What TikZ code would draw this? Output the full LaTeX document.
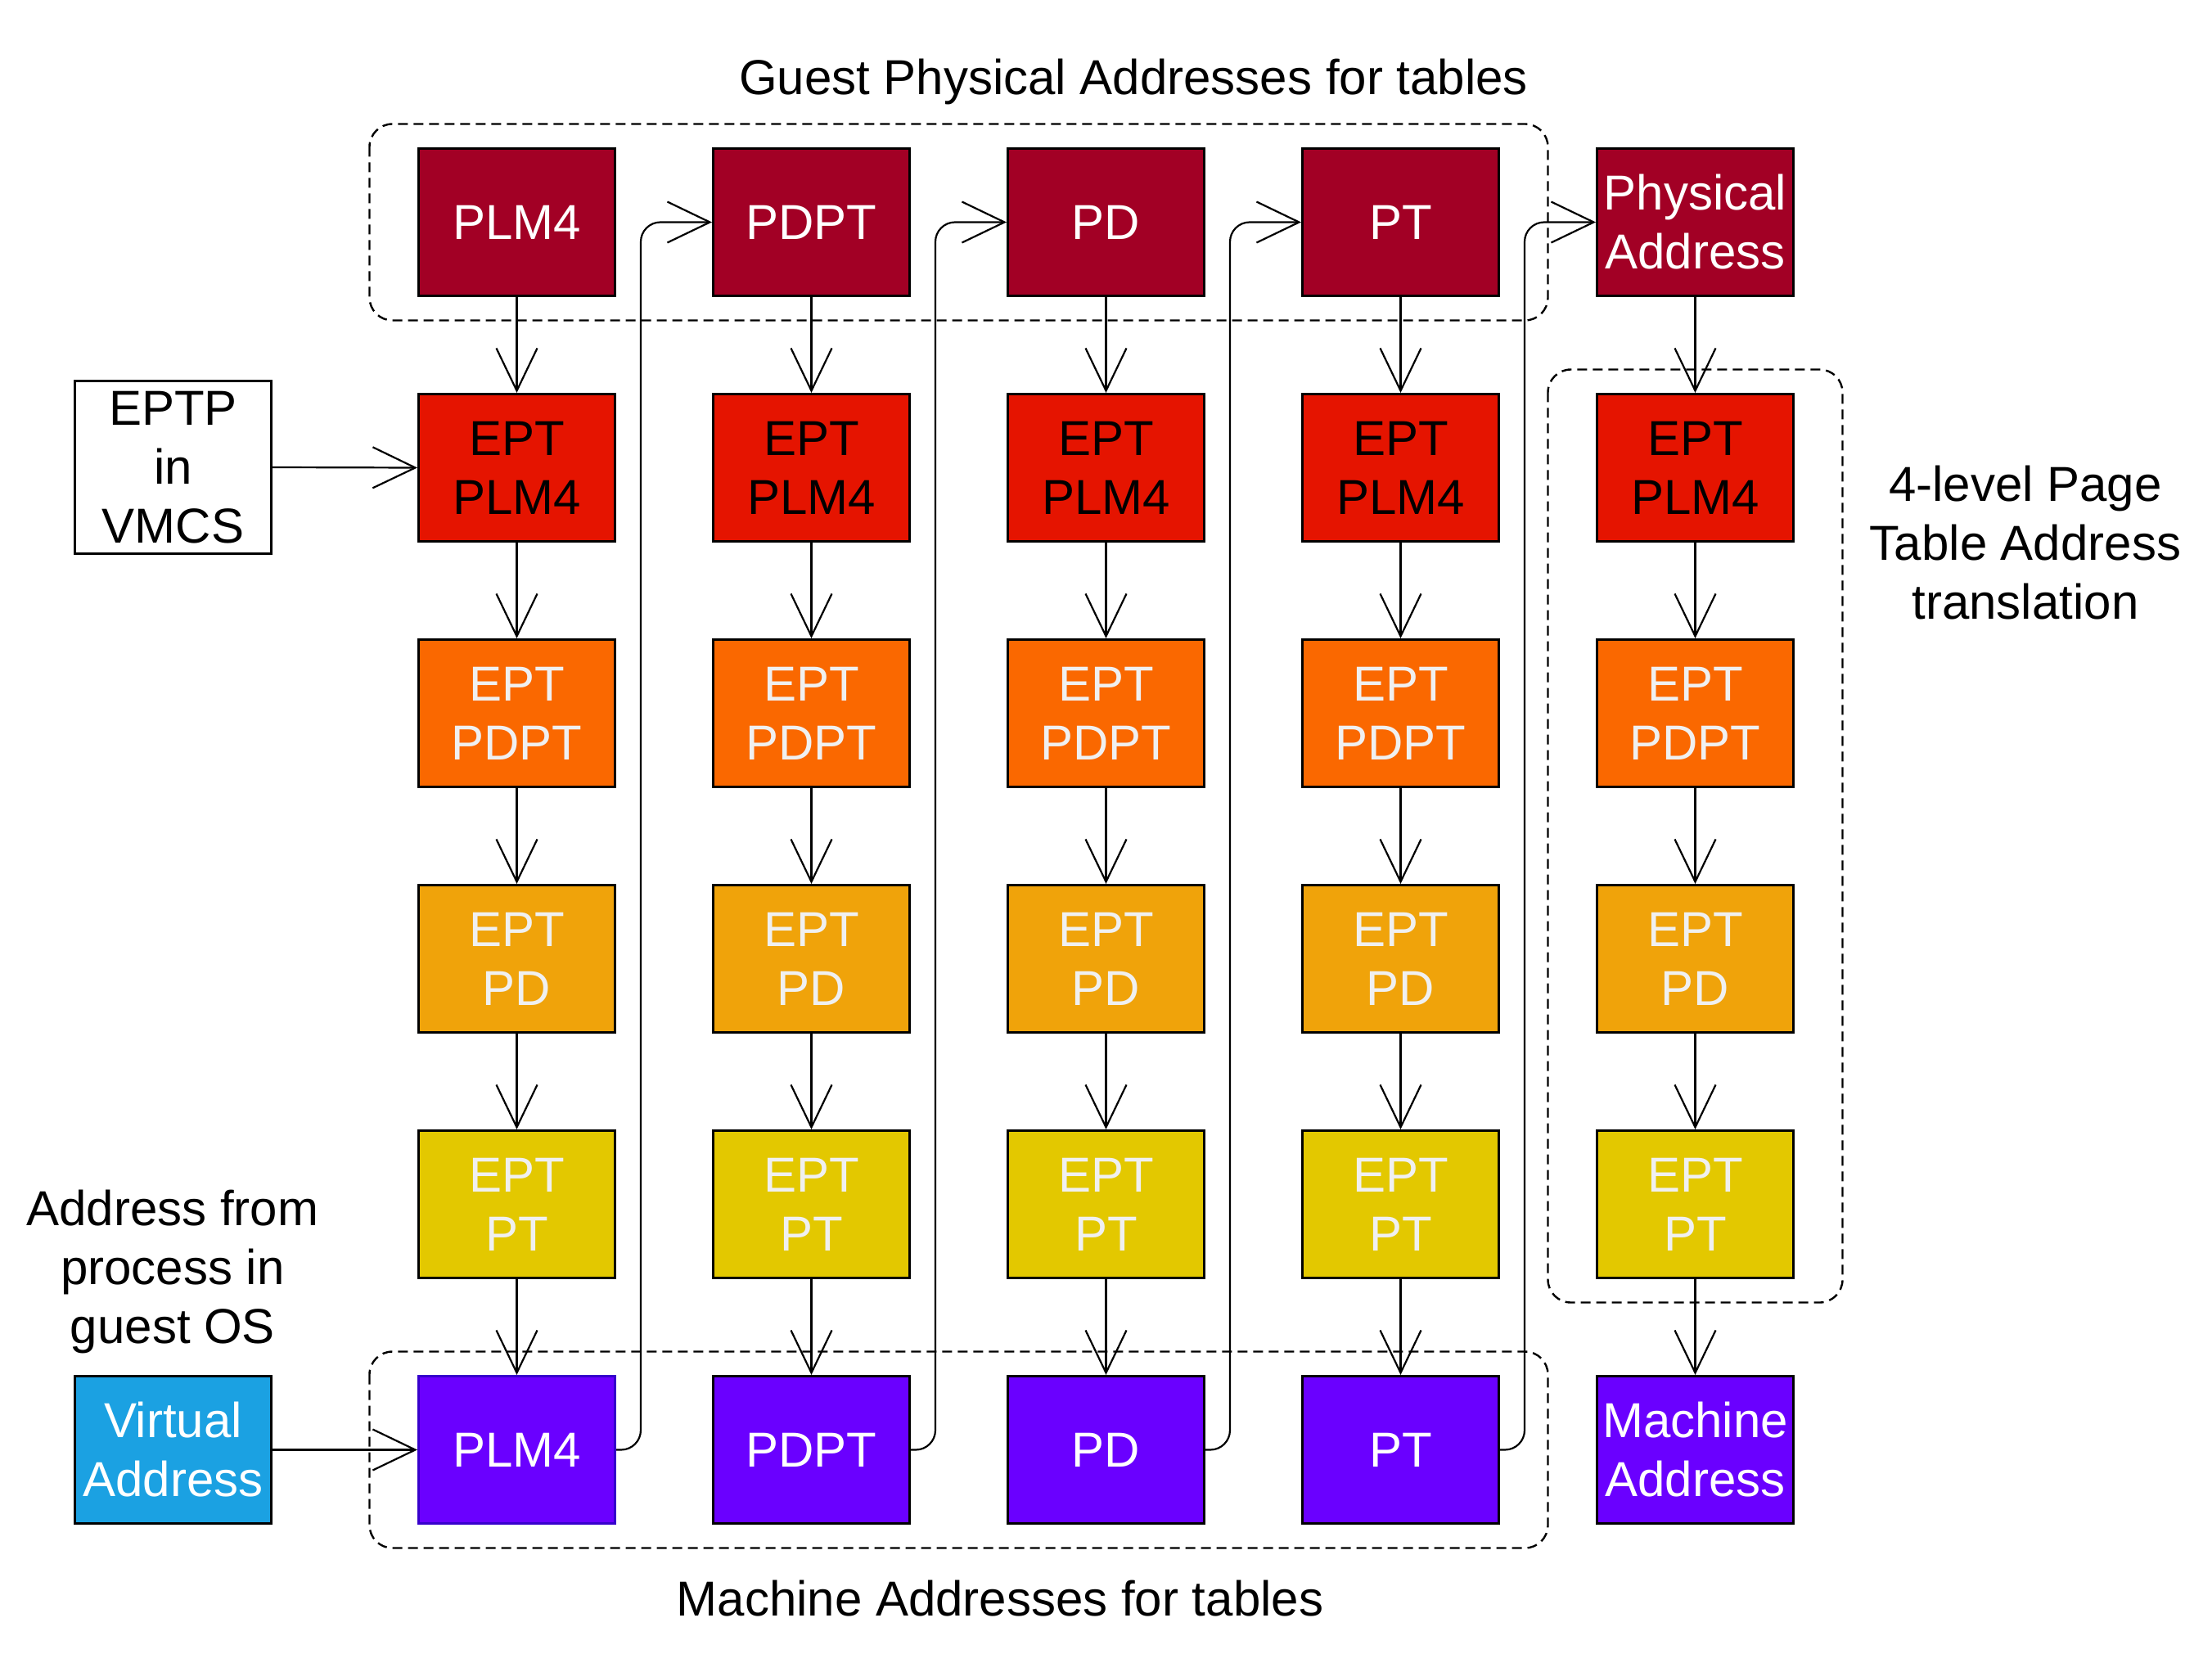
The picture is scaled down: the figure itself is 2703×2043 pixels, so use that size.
\documentclass[tikz,border=0pt]{standalone}
\usepackage{fontspec}
\setmainfont{Liberation Sans}
\usetikzlibrary{arrows.meta}
\definecolor{cTop}{HTML}{A20025}
\definecolor{cEPTa}{HTML}{E51400}
\definecolor{cEPTb}{HTML}{FA6800}
\definecolor{cEPTc}{HTML}{F0A30A}
\definecolor{cEPTd}{HTML}{E3C800}
\definecolor{cBot}{HTML}{6A00FF}
\definecolor{cBotLine}{HTML}{3700CC}
\definecolor{cVA}{HTML}{1BA1E2}
\definecolor{cLight}{HTML}{F0F0F0}
\begin{document}
\begin{tikzpicture}[x=0.5pt,y=-0.5pt,
  box/.style={draw=black, line width=1.5pt, minimum width=120pt, minimum height=90pt,
    inner sep=0pt, align=center, font=\fontsize{30pt}{36pt}\selectfont},
  conn/.style={line width=1.1pt, -{Straight Barb[length=26pt,width=25pt]}},
  grp/.style={draw, dash pattern=on 6pt off 3.5pt, line width=1.2pt, rounded corners=14pt},
  lbl/.style={align=center, font=\fontsize{30pt}{36pt}\selectfont, inner sep=0pt}
]
\useasboundingbox (0,0) rectangle (2703,2043);

% dashed groups
\draw[grp] (451.5,151.5) rectangle (1891.5,391.5);
\draw[grp] (451.5,1651.5) rectangle (1891.5,1891.5);
\draw[grp] (1891.5,451.5) rectangle (2251.5,1591.5);

% top row
\node[box, fill=cTop, text=white] (e0-1) at (631.5,271.5) {PLM4};
\node[box, fill=cTop, text=white] (e0-2) at (991.5,271.5) {PDPT};
\node[box, fill=cTop, text=white] (e0-3) at (1351.5,271.5) {PD};
\node[box, fill=cTop, text=white] (e0-4) at (1711.5,271.5) {PT};
\node[box, fill=cTop, text=white] (e0-5) at (2071.5,271.5) {Physical\\Address};

% EPT rows
\foreach \i in {1,...,5} {
  \pgfmathsetmacro\cx{631.5+360*(\i-1)}
  \node[box, fill=cEPTa, text=black]  (e1-\i) at (\cx,571.5)  {EPT\\PLM4};
  \node[box, fill=cEPTb, text=cLight] (e2-\i) at (\cx,871.5)  {EPT\\PDPT};
  \node[box, fill=cEPTc, text=cLight] (e3-\i) at (\cx,1171.5) {EPT\\PD};
  \node[box, fill=cEPTd, text=cLight] (e4-\i) at (\cx,1471.5) {EPT\\PT};
}

% bottom row
\node[box, fill=cBot, draw=cBotLine, text=white] (e5-1) at (631.5,1771.5) {PLM4};
\node[box, fill=cBot, text=white] (e5-2) at (991.5,1771.5) {PDPT};
\node[box, fill=cBot, text=white] (e5-3) at (1351.5,1771.5) {PD};
\node[box, fill=cBot, text=white] (e5-4) at (1711.5,1771.5) {PT};
\node[box, fill=cBot, text=white] (e5-5) at (2071.5,1771.5) {Machine\\Address};

% left boxes
\node[box, fill=white, text=black, minimum height=105pt] (eptp) at (211.5,571) {EPTP\\in\\VMCS};
\node[box, fill=cVA, text=white] (va) at (211.5,1771.5) {Virtual\\Address};

% labels
\node[lbl] (gl) at (1385,100) {Guest Physical Addresses for tables};
\node[lbl] (ml) at (1222,1953) {Machine Addresses for tables};
\node[lbl] (rl) at (2475,663) {4-level Page\\Table Address\\translation};
\node[lbl] (ll) at (211,1554) {Address from\\process in\\guest OS};

% vertical arrows
\foreach \i in {1,...,5} {
  \foreach \r [evaluate=\r as \n using int(\r+1)] in {0,...,4} {
    \draw[conn] (e\r-\i.south) -- (e\n-\i.north);
  }
}

% cross connectors
\foreach \i [evaluate=\i as \j using int(\i+1)] in {1,...,4} {
  \draw[conn, rounded corners=12pt] (e5-\i.east) -- ++(30,0) |- (e0-\j.west);
}

% inputs
\draw[conn] (eptp.east) -- (e1-1.west);
\draw[conn] (va.east) -- (e5-1.west);
\end{tikzpicture}
\end{document}
